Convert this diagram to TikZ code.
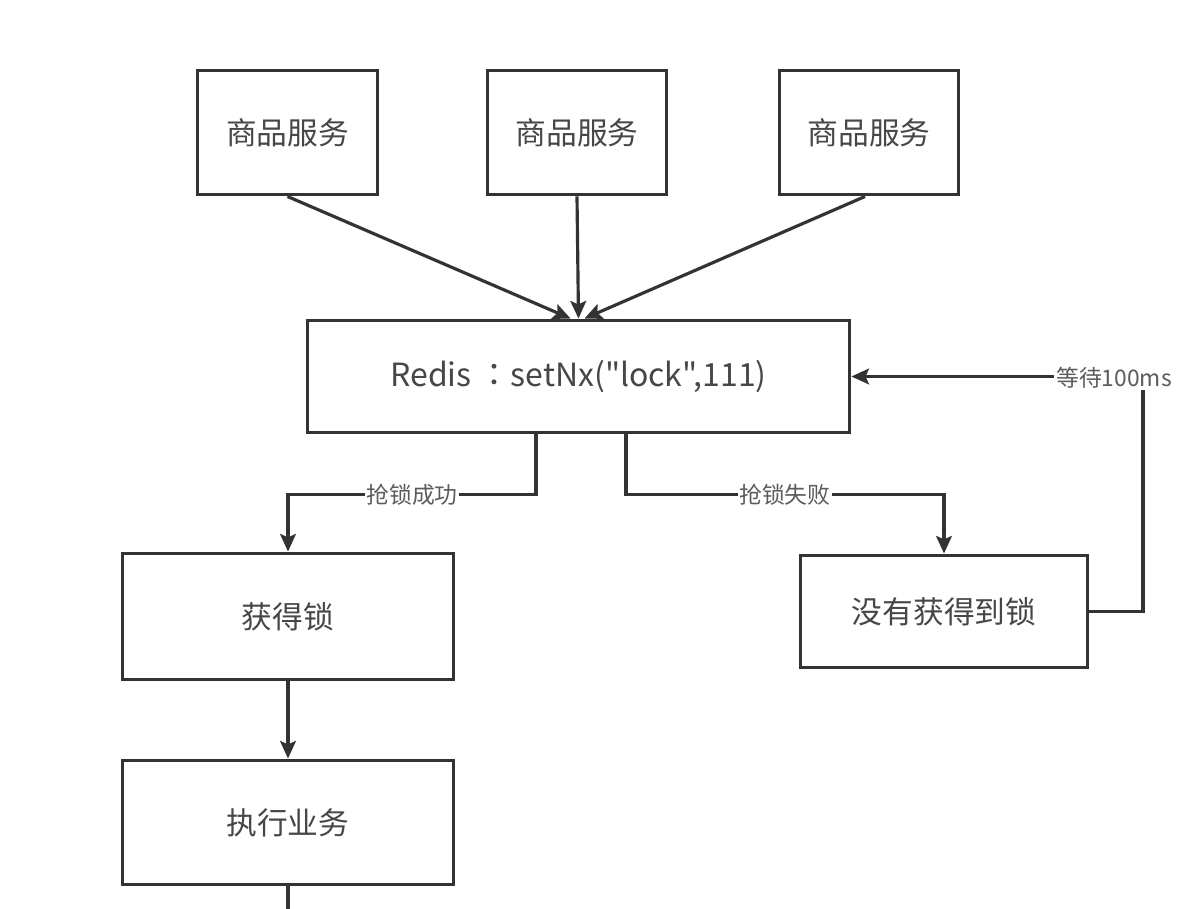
\documentclass[tikz,border=0pt]{standalone}
\usepackage{fontspec}
\setmainfont{Noto Sans CJK SC}[Ligatures=TeXOff]
\newfontfamily\tcfont{Noto Sans CJK TC}
\usetikzlibrary{arrows.meta}
\definecolor{linegray}{HTML}{333333}
\tikzset{
  box/.style={draw=linegray,line width=1.7pt,fill=white,inner sep=0pt,
    font=\fontsize{17.5}{20}\selectfont,text=linegray!90},
  arr/.style={draw=linegray,line width=1.8pt,-{Stealth[length=10pt,width=9pt,inset=2pt]}},
  lbl/.style={fill=white,inner sep=1pt,font=\fontsize{13}{15}\selectfont,text=linegray!80}
}
\begin{document}
\begin{tikzpicture}[x=0.02cm,y=-0.02cm]
\useasboundingbox[fill=white] (0,0) rectangle (1178,909);
% services
\node[box,minimum width=3.62cm,minimum height=2.5cm] (svcA) at (287.5,132.5) {商品服务};
\node[box,minimum width=3.6cm,minimum height=2.5cm] (svcB) at (577,132.5) {商品服务};
\node[box,minimum width=3.6cm,minimum height=2.5cm] (svcC) at (869,132.5) {商品服务};
% redis
\node[box,minimum width=10.86cm,minimum height=2.26cm,font=\fontsize{18.2}{20}\selectfont] (redis) at (578.5,376.5) {Redis {\tcfont ：}setNx("lock",111)};
% results
\node[box,minimum width=6.64cm,minimum height=2.54cm] (got) at (288,616.5) {获得锁};
\node[box,minimum width=5.76cm,minimum height=2.26cm] (nolock) at (944,611.5) {没有获得到锁};
\node[box,minimum width=6.64cm,minimum height=2.5cm] (run) at (288,822.5) {执行业务};
\coordinate (turn) at (1143,376.5);
\coordinate (tail) at (288,909);
% connectors
\draw[arr] (svcA.south) -- ([xshift=-0.16cm]redis.north);
\draw[arr] (svcB.south) -- (redis.north);
\draw[arr] ([xshift=-0.08cm]svcC.south) -- ([xshift=0.12cm]redis.north);
\draw[arr] ([xshift=-0.85cm]redis.south) -- ++(0,60) -| node[lbl,pos=0.25] {抢锁成功} (got.north);
\draw[arr] ([xshift=0.95cm]redis.south) -- ++(0,60) -| node[lbl,pos=0.25] {抢锁失败} (nolock.north);
\draw[arr] (nolock.east) -| (turn) -- (redis.east);
\node[lbl] (wait) at (1114,378) {等待100ms};
\draw[arr] (got.south) -- (run.north);
\draw[draw=linegray,line width=1.8pt] (run.south) -- (tail);
\end{tikzpicture}
\end{document}
